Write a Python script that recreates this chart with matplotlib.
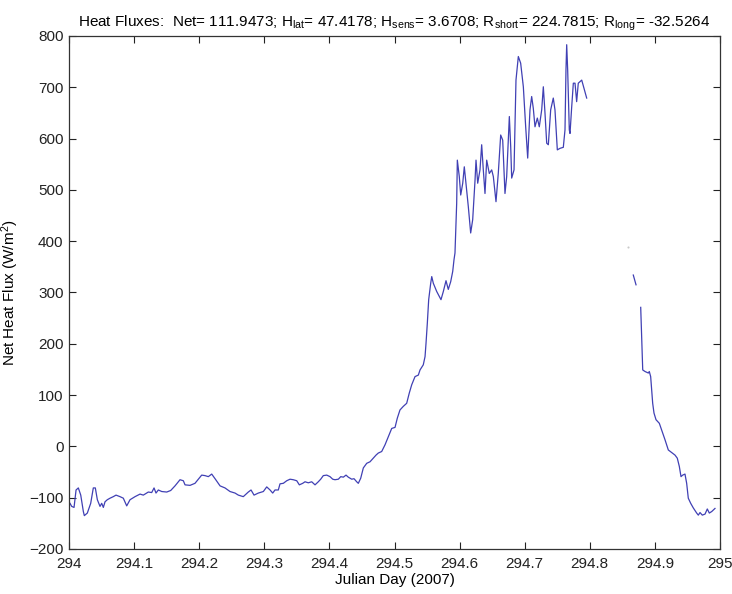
import numpy as np
import matplotlib
matplotlib.use("Agg")
import matplotlib.pyplot as plt

plt.rcParams['font.family'] = ['Liberation Sans', 'DejaVu Sans']
plt.rcParams['mathtext.fontset'] = 'custom'
plt.rcParams['mathtext.rm'] = 'Liberation Sans'
plt.rcParams['mathtext.it'] = 'Liberation Sans'

DAY0 = 294.0

# day offsets (from 294) and net heat flux (W/m^2)
day_offset = [
    0.0015, 0.0041, 0.0077, 0.0108, 0.0143, 0.0180, 0.0220, 0.0235, 0.0281, 0.0333,
    0.0373, 0.0404, 0.0435, 0.0476, 0.0502, 0.0527, 0.0553, 0.0588, 0.0630, 0.0680,
    0.0722, 0.0783, 0.0834, 0.0886, 0.0937, 0.1014, 0.1091, 0.1141, 0.1218, 0.1270,
    0.1306, 0.1336, 0.1372, 0.1424, 0.1501, 0.1562, 0.1628, 0.1705, 0.1756, 0.1782,
    0.1859, 0.1935, 0.1986, 0.2038, 0.2089, 0.2140, 0.2192, 0.2243, 0.2320, 0.2396,
    0.2473, 0.2550, 0.2601, 0.2677, 0.2754, 0.2796, 0.2842, 0.2908, 0.2985, 0.3037,
    0.3088, 0.3129, 0.3164, 0.3215, 0.3241, 0.3292, 0.3344, 0.3395, 0.3445, 0.3498,
    0.3538, 0.3590, 0.3625, 0.3676, 0.3728, 0.3779, 0.3829, 0.3866, 0.3906, 0.3959,
    0.4009, 0.4051, 0.4086, 0.4137, 0.4174, 0.4214, 0.4255, 0.4290, 0.4343, 0.4378,
    0.4419, 0.4444, 0.4481, 0.4521, 0.4573, 0.4624, 0.4674, 0.4716, 0.4751, 0.4803,
    0.4854, 0.4905, 0.4957, 0.5008, 0.5043, 0.5084, 0.5135, 0.5187, 0.5227, 0.5264,
    0.5315, 0.5366, 0.5392, 0.5442, 0.5469, 0.5484, 0.5504, 0.5525, 0.5556, 0.5572,
    0.5596, 0.5648, 0.5714, 0.5750, 0.5791, 0.5826, 0.5863, 0.5894, 0.5914, 0.5929,
    0.5955, 0.5965, 0.5995, 0.6017, 0.6048, 0.6072, 0.6098, 0.6134, 0.6170, 0.6201,
    0.6237, 0.6252, 0.6278, 0.6313, 0.6339, 0.6364, 0.6390, 0.6416, 0.6456, 0.6493,
    0.6518, 0.6559, 0.6594, 0.6631, 0.6662, 0.6697, 0.6723, 0.6764, 0.6785, 0.6800,
    0.6836, 0.6866, 0.6902, 0.6938, 0.6979, 0.7015, 0.7046, 0.7081, 0.7107, 0.7132,
    0.7158, 0.7194, 0.7224, 0.7261, 0.7286, 0.7312, 0.7338, 0.7363, 0.7399, 0.7439,
    0.7465, 0.7501, 0.7542, 0.7593, 0.7619, 0.7634, 0.7645, 0.7660, 0.7685, 0.7696,
    0.7722, 0.7747, 0.7773, 0.7798, 0.7823, 0.7876, 0.7911, 0.7952,
    0.8300,
    0.8668, 0.8710,
    0.8740,
    0.8782, 0.8797, 0.8813, 0.8848, 0.8899, 0.8914, 0.8935, 0.8966, 0.8986, 0.9017,
    0.9068, 0.9104, 0.9155, 0.9206, 0.9258, 0.9309, 0.9344, 0.9375, 0.9401, 0.9427,
    0.9462, 0.9488, 0.9513, 0.9550, 0.9590, 0.9642, 0.9667, 0.9693, 0.9728, 0.9770,
    0.9805, 0.9836, 0.9873, 0.9923,
]
net_flux = [
    -111, -117, -119, -85, -81, -95, -127, -135, -130, -111,
    -81, -81, -104, -117, -111, -119, -108, -104, -101, -98,
    -95, -98, -101, -116, -104, -98, -93, -95, -89, -90,
    -81, -91, -85, -88, -89, -86, -77, -65, -67, -75,
    -76, -72, -64, -56, -57, -59, -54, -63, -77, -81,
    -88, -91, -95, -98, -89, -85, -95, -91, -88, -79,
    -85, -91, -85, -85, -73, -72, -67, -64, -65, -67,
    -75, -72, -69, -71, -69, -75, -69, -64, -57, -56,
    -59, -64, -65, -64, -59, -60, -56, -60, -64, -63,
    -69, -72, -62, -42, -33, -30, -23, -17, -13, -10,
    3, 19, 35, 37, 55, 71, 78, 84, 104, 120,
    136, 139, 149, 159, 175, 201, 240, 286, 318, 331,
    318, 302, 286, 302, 323, 306, 321, 341, 364, 377,
    474, 558, 526, 490, 513, 545, 513, 467, 416, 442,
    519, 558, 513, 539, 588, 539, 493, 558, 532, 539,
    526, 477, 532, 607, 597, 493, 526, 643, 584, 523,
    539, 714, 760, 747, 701, 623, 562, 656, 682, 659,
    623, 640, 623, 656, 701, 649, 591, 588, 656, 679,
    656, 578, 581, 583, 617, 734, 783, 734, 617, 610,
    662, 708, 708, 672, 708, 714, 698, 679,
    np.nan,
    334, 315,
    np.nan,
    271, 214, 149, 146, 143, 146, 136, 84, 65, 52,
    45, 32, 13, -7, -12, -17, -23, -39, -59, -56,
    -54, -72, -101, -111, -120, -130, -134, -129, -134, -132,
    -122, -130, -127, -121,
]

# an isolated faint sample inside the data gap
stray_offset = [0.8591]
stray_flux = [389]

title_text = (r'Heat Fluxes:  Net= 111.9473; H$_{\rm lat}$= 47.4178; '
              r'H$_{\rm sens}$= 3.6708; R$_{\rm short}$= 224.7815; '
              r'R$_{\rm long}$= -32.5264')

x_ticks = [294, 294.1, 294.2, 294.3, 294.4, 294.5, 294.6, 294.7, 294.8, 294.9, 295]
x_tick_labels = ['294', '294.1', '294.2', '294.3', '294.4', '294.5', '294.6',
                 '294.7', '294.8', '294.9', '295']
y_ticks = [-200, -100, 0, 100, 200, 300, 400, 500, 600, 700, 800]

days = DAY0 + np.array(day_offset)
flux = np.array(net_flux, dtype=float)

fig = plt.figure(figsize=(7.32, 5.94), dpi=100)
ax = fig.add_axes([0.0943, 0.0758, 0.8893, 0.8636])

ax.plot(days, flux, color='#4040b4', linewidth=0.9)
ax.plot(DAY0 + np.array(stray_offset), stray_flux, linestyle='none', marker='o',
        markersize=1.5, color='#c8c8c8', markeredgewidth=0)

ax.set_xlim(294, 295)
ax.set_ylim(-200, 800)
ax.set_xticks(x_ticks)
ax.set_xticklabels(x_tick_labels)
ax.set_yticks(y_ticks)
ax.tick_params(direction='in', top=True, right=True, length=5, width=0.8,
               labelsize=11, colors='#222222')
ax.tick_params(axis='x', pad=6)
ax.tick_params(axis='y', pad=4)
for s in ax.spines.values():
    s.set_color('#333333')
    s.set_linewidth(0.9)

ax.set_xlabel('Julian Day (2007)', fontsize=11, labelpad=1)
ax.set_ylabel(r'Net Heat Flux (W/m$^2$)', fontsize=11, labelpad=6)
ax.set_title(title_text, fontsize=11, pad=7)

fig.savefig('out.png', dpi=100)
